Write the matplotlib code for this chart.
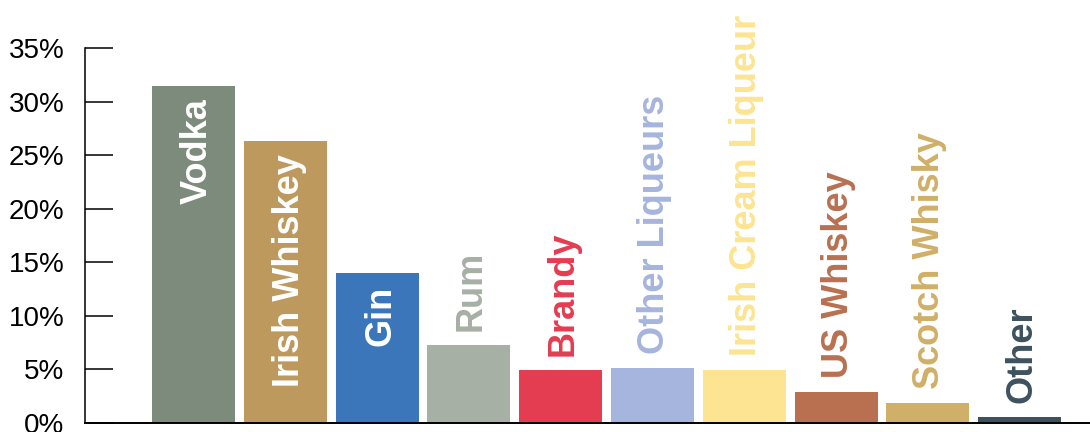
import matplotlib
matplotlib.use("Agg")
import matplotlib.pyplot as plt
import numpy as np

# data
categories = ["Vodka", "Irish Whiskey", "Gin", "Rum", "Brandy", "Other Liqueurs",
              "Irish Cream Liqueur", "US Whiskey", "Scotch Whisky", "Other"]
shares = [31.5, 26.3, 14.0, 7.3, 4.95, 5.1, 4.95, 2.9, 1.9, 0.55]
colors = ["#7d8b7c", "#bd995e", "#3c76ba", "#a6b0a5", "#e43c50", "#a6b5de",
          "#fde492", "#b87050", "#d0b068", "#3d525e"]
inside = [True, True, True, False, False, False, False, False, False, False]
yticks = [0, 5, 10, 15, 20, 25, 30, 35]

plt.rcParams["font.family"] = ["Liberation Sans", "DejaVu Sans"]

fig = plt.figure(figsize=(10.9, 4.32), dpi=100)
ax = fig.add_axes([85 / 1090, 9 / 432, 1 - 85 / 1090, 375 / 432])

x = np.arange(len(categories))
ax.bar(x, shares, width=0.904, color=colors)

# names: white inside the tall bars, bar-coloured above the short ones
for xi, val, name, col, ins in zip(x, shares, categories, colors, inside):
    if ins:
        ax.annotate(name, (xi, val), xytext=(3, -9), textcoords="offset points",
                    rotation=90, ha="center", va="top", color="white",
                    fontsize=26, fontweight="bold")
    else:
        ax.annotate(name, (xi, val), xytext=(1.5, 10), textcoords="offset points",
                    rotation=90, ha="center", va="bottom", color=col,
                    fontsize=26, fontweight="bold", annotation_clip=False)

ax.set_xlim(-1.182, 9.766)
ax.set_ylim(0, 35)
ax.set_yticks(yticks)
ax.set_yticklabels([f"{t}%" for t in yticks])
ax.set_xticks([])
ax.tick_params(axis="y", direction="in", length=20, width=1.1, pad=15, labelsize=20)

for s in ["top", "right"]:
    ax.spines[s].set_visible(False)
ax.spines["left"].set_linewidth(1.1)
ax.spines["bottom"].set_linewidth(1.4)

fig.savefig("out.png", dpi=100)
